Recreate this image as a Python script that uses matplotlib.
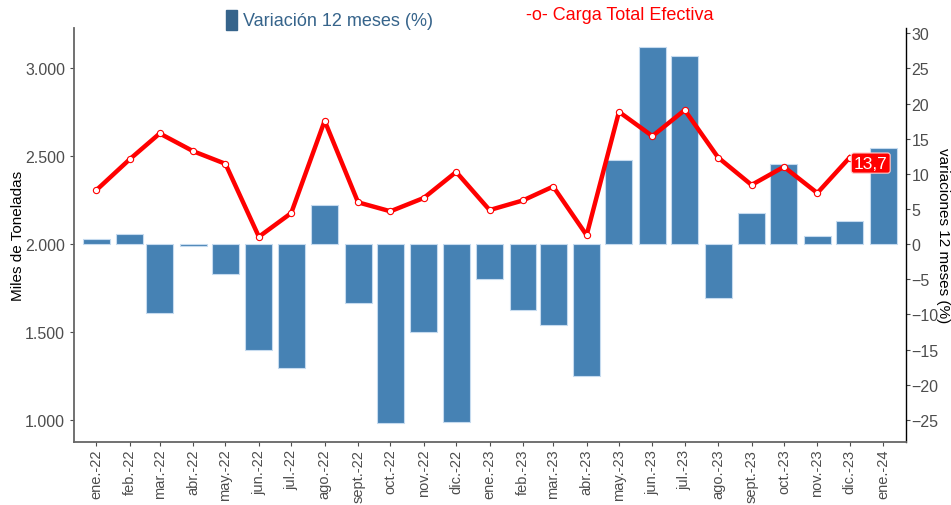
import matplotlib
matplotlib.use("Agg")
import matplotlib.pyplot as plt
import matplotlib.dates as mdates
from matplotlib.patches import Rectangle
import numpy as np
import datetime as dt

plt.rcParams['font.family'] = ['Liberation Sans', 'DejaVu Sans']

meses = ['ene.-22', 'feb.-22', 'mar.-22', 'abr.-22', 'may.-22', 'jun.-22',
         'jul.-22', 'ago.-22', 'sept.-22', 'oct.-22', 'nov.-22', 'dic.-22',
         'ene.-23', 'feb.-23', 'mar.-23', 'abr.-23', 'may.-23', 'jun.-23',
         'jul.-23', 'ago.-23', 'sept.-23', 'oct.-23', 'nov.-23', 'dic.-23',
         'ene.-24']
fechas = [dt.date(2022 + i // 12, i % 12 + 1, 1) for i in range(25)]

# variacion 12 meses (%) -> barras, eje derecho
variacion = [0.8, 1.5, -9.8, -0.2, -4.2, -15.0, -17.6, 5.5, -8.4, -25.5,
             -12.5, -25.3, -5.0, -9.4, -11.5, -18.8, 12.0, 28.0, 26.8, -7.7,
             4.4, 11.4, 1.2, 3.3, 13.7]

# carga total efectiva (miles de toneladas) -> linea, eje izquierdo
carga = [2306, 2482, 2630, 2529, 2457, 2042, 2177, 2702, 2238, 2187, 2263,
         2411, 2194, 2249, 2328, 2051, 2753, 2615, 2763, 2493, 2337, 2440,
         2291, 2493]
etiqueta = '13,7'

x = mdates.date2num(fechas)

fig = plt.figure(figsize=(9.51, 5.06), dpi=100)
ax = fig.add_axes([0.0778, 0.1251, 0.8746, 0.8176])
ax2 = ax.twinx()

ax2.bar(x, variacion, width=25, color='#4682B4', edgecolor='#c6dbef',
        linewidth=0.8, zorder=2)

ax.plot(x[:len(carga)], carga, color='red', lw=3.2, zorder=3,
        marker='o', markersize=4.5, markerfacecolor='white',
        markeredgecolor='red', markeredgewidth=0.8)
ax.annotate(etiqueta, (x[len(carga) - 1], carga[-1]), xytext=(3, -4),
            textcoords='offset points', ha='left', va='center',
            color='white', fontsize=12.5, zorder=5,
            bbox=dict(boxstyle='round,pad=0.15,rounding_size=0.15',
                      fc='red', ec='#ffcccc', lw=0.8))

ax.set_zorder(ax2.get_zorder() + 1)
ax.patch.set_visible(False)

ax.set_ylim(876, 3230)
ax2.set_ylim(-28.1, 30.75)
ax.set_xlim(x[0] - 20.5, x[-1] + 21)

ax.set_yticks([1000, 1500, 2000, 2500, 3000])
ax.set_yticklabels(['1.000', '1.500', '2.000', '2.500', '3.000'])
ax2.set_yticks(np.arange(-25, 31, 5))
ax.set_xticks(x)
ax.set_xticklabels(meses, rotation=90)

for a in (ax, ax2):
    for s in a.spines.values():
        s.set_visible(False)
ax.spines['left'].set_visible(True)
ax.spines['left'].set_color('#666666')
ax.spines['left'].set_linewidth(1.3)
ax.spines['bottom'].set_visible(True)
ax.spines['bottom'].set_color('#666666')
ax.spines['bottom'].set_linewidth(1.3)
ax2.spines['right'].set_visible(True)
ax2.spines['right'].set_color('black')
ax2.spines['right'].set_linewidth(1.0)

ax.tick_params(axis='y', colors='#4d4d4d', labelsize=11.5, length=3,
               width=0.8, labelcolor='#4d4d4d')
ax.tick_params(axis='x', colors='#4d4d4d', labelsize=10.5, length=3,
               width=0.8, labelcolor='#4d4d4d', pad=2)
ax2.tick_params(axis='y', colors='#4d4d4d', labelsize=11.5, length=3,
                width=0.8, pad=1)

ax.set_ylabel('Miles de Toneladas', fontsize=11, color='black')
ax.yaxis.set_label_coords(-0.059, 0.5)
ax2.set_ylabel('variaciones 12 meses (%)', fontsize=11, color='black',
               rotation=270, va='center')
ax2.yaxis.set_label_coords(1.045, 0.5)

# leyenda manual
fig.patches.append(Rectangle((226 / 951, 1 - 31 / 506), 11 / 951, 20 / 506,
                             transform=fig.transFigure, color='#36648B'))
fig.text(243 / 951, 1 - 21 / 506, 'Variación 12 meses (%)', color='#36648B',
         fontsize=13, va='center', ha='left')
fig.text(526 / 951, 1 - 16 / 506, '-o- Carga Total Efectiva', color='red',
         fontsize=13, va='center', ha='left')

fig.savefig('out.png', dpi=100)
